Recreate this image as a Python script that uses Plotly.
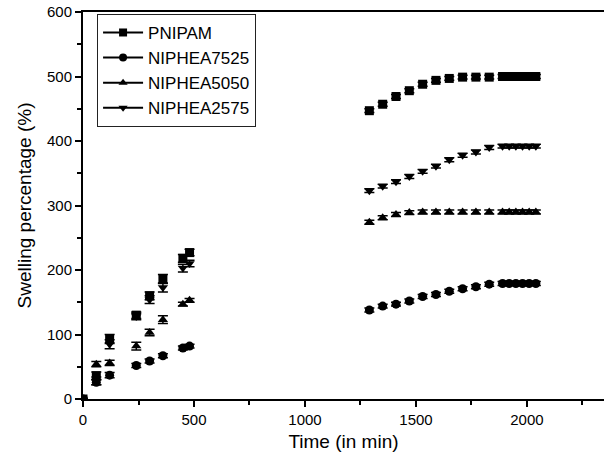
import plotly.graph_objects as go

# ---- data ----
time_pts = [0, 60, 120, 240, 300, 360, 450, 480,
            1290, 1350, 1410, 1470, 1530, 1590, 1650, 1710, 1770, 1830,
            1890, 1920, 1950, 1980, 2010, 2040]

pnipam = [0, 36, 93, 130, 160, 186, 218, 227,
          447, 457, 469, 478, 488, 494, 497, 499, 499, 499,
          500, 500, 500, 500, 500, 500]
niphea7525 = [0, 26, 37, 52, 59, 67, 79, 82,
              138, 144, 147, 152, 159, 162, 167, 171, 174, 178,
              179, 179, 179, 179, 179, 179]
niphea5050 = [0, 54, 56, 82, 103, 123, 147, 153,
              274, 281, 286, 289, 290, 290, 290, 290, 290, 290,
              290, 290, 290, 290, 290, 290]
niphea2575 = [0, 28, 85, 128, 154, 173, 203, 210,
              323, 330, 337, 345, 353, 361, 371, 378, 383, 390,
              392, 392, 392, 392, 392, 392]

err_pnipam = [0, 6, 7, 5, 6, 7, 6, 5] + [3] * 16
err_7525 = [0, 4, 4, 3, 3, 3, 3, 3] + [3] * 16
err_5050 = [0, 4, 4, 6, 5, 6, 3, 3] + [3] * 16
err_2575 = [0, 6, 7, 5, 6, 7, 6, 5] + [3] * 16

series = [
    ("PNIPAM", pnipam, err_pnipam, "square"),
    ("NIPHEA7525", niphea7525, err_7525, "circle"),
    ("NIPHEA5050", niphea5050, err_5050, "triangle-up"),
    ("NIPHEA2575", niphea2575, err_2575, "triangle-down"),
]

fig = go.Figure()
for name, ys, errs, sym in series:
    fig.add_trace(go.Scatter(
        x=time_pts, y=ys, mode="markers", name=name, showlegend=False,
        marker=dict(symbol=sym, size=9, color="black"),
        error_y=dict(type="data", array=errs, visible=True,
                     color="black", thickness=1.5, width=5),
    ))
# legend entries (line + marker, as in the original)
for name, ys, errs, sym in series:
    fig.add_trace(go.Scatter(
        x=[None], y=[None], mode="lines+markers", name=name,
        line=dict(color="black", width=2),
        marker=dict(symbol=sym, size=8, color="black"),
    ))

font_family = "Liberation Sans, Arial, sans-serif"
fig.update_layout(
    width=604, height=459,
    margin=dict(l=83, r=0, t=12, b=60),
    paper_bgcolor="white", plot_bgcolor="white",
    font=dict(family=font_family, color="black", size=15),
    legend=dict(
        x=0.027, y=0.995, xanchor="left", yanchor="top",
        bgcolor="white", bordercolor="#222", borderwidth=1,
        font=dict(size=17, family=font_family, color="black"),
        tracegroupgap=0, itemwidth=40,
    ),
    xaxis=dict(
        range=[0, 2347], tickvals=[0, 500, 1000, 1500, 2000],
        showgrid=False, zeroline=False,
        showline=True, linecolor="black", linewidth=2, mirror=True,
        ticks="outside", ticklen=6, tickwidth=2, tickcolor="black",
        minor=dict(dtick=250, ticks="outside", ticklen=4, tickwidth=2, tickcolor="black"),
        title=dict(text="Time (in min)", font=dict(size=19), standoff=8),
        tickfont=dict(size=15),
    ),
    yaxis=dict(
        range=[0, 600], tickvals=[0, 100, 200, 300, 400, 500, 600],
        showgrid=False, zeroline=False,
        showline=True, linecolor="black", linewidth=2,
        ticks="outside", ticklen=6, tickwidth=2, tickcolor="black",
        minor=dict(dtick=50, ticks="outside", ticklen=4, tickwidth=2, tickcolor="black"),
        title=dict(text="Swelling percentage (%)", font=dict(size=19), standoff=10),
        tickfont=dict(size=15),
    ),
)

fig.write_html("out.html")
